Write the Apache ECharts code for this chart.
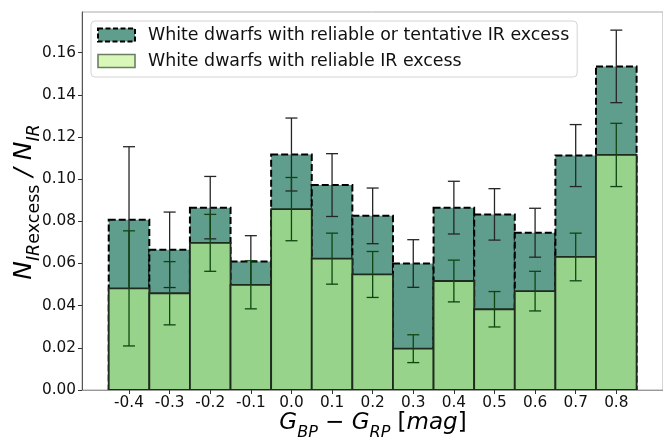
<!DOCTYPE html>
<html>
<head>
<meta charset="utf-8">
<script src="https://cdn.jsdelivr.net/npm/echarts@6/dist/echarts.min.js"></script>
<style>
html,body{margin:0;padding:0;background:#fff;}
#chart{width:663px;height:439px;}
</style>
</head>
<body>
<div id="chart"></div>
<script>
// ---- data ----
const binCenters = [-0.4, -0.3, -0.2, -0.1, 0.0, 0.1, 0.2, 0.3, 0.4, 0.5, 0.6, 0.7, 0.8];
const xTickLabels = ['-0.4', '-0.3', '-0.2', '-0.1', '0.0', '0.1', '0.2', '0.3', '0.4', '0.5', '0.6', '0.7', '0.8'];
const yTickValues = [0, 0.02, 0.04, 0.06, 0.08, 0.10, 0.12, 0.14, 0.16];
// reliable or tentative IR excess
const allValues = [0.0808, 0.0665, 0.0865, 0.0610, 0.1117, 0.0972, 0.0826, 0.0600, 0.0865, 0.0833, 0.0746, 0.1112, 0.1535];
const allErrors = [0.0346, 0.0179, 0.0148, 0.0122, 0.0173, 0.0149, 0.0132, 0.0113, 0.0125, 0.0122, 0.0116, 0.0147, 0.0172];
// reliable IR excess
const reliableValues = [0.0482, 0.0459, 0.0698, 0.0499, 0.0858, 0.0623, 0.0548, 0.0196, 0.0517, 0.0383, 0.0469, 0.0631, 0.1115];
const reliableErrors = [0.0273, 0.0150, 0.0135, 0.0114, 0.0150, 0.0121, 0.0109, 0.0066, 0.0099, 0.0084, 0.0094, 0.0113, 0.0150];
const seriesNames = ['White dwarfs with reliable or tentative IR excess', 'White dwarfs with reliable IR excess'];
const binWidth = 0.1;

const FONT = 'DejaVu Sans';
const chart = echarts.init(document.getElementById('chart'), null, {renderer: 'canvas'});

function makeBarRenderer(style) {
  return function (params, api) {
    const x = api.value(0), y = api.value(1);
    const p0 = api.coord([x - binWidth / 2, y]);
    const p1 = api.coord([x + binWidth / 2, 0]);
    return {
      type: 'rect',
      shape: {x: p0[0], y: p0[1], width: p1[0] - p0[0], height: p1[1] - p0[1]},
      style: Object.assign({}, style)
    };
  };
}
function makeErrRenderer(color, lw, cap) {
  return function (params, api) {
    const x = api.value(0), y = api.value(1), e = api.value(2);
    const t = api.coord([x, y + e]);
    const b = api.coord([x, y - e]);
    const st = {stroke: color, lineWidth: lw};
    return {
      type: 'group',
      children: [
        {type: 'line', shape: {x1: t[0], y1: t[1], x2: b[0], y2: b[1]}, style: st},
        {type: 'line', shape: {x1: t[0] - cap, y1: t[1], x2: t[0] + cap, y2: t[1]}, style: st},
        {type: 'line', shape: {x1: b[0] - cap, y1: b[1], x2: b[0] + cap, y2: b[1]}, style: st}
      ]
    };
  };
}

const allData = binCenters.map((c, i) => [c, allValues[i], allErrors[i]]);
const relData = binCenters.map((c, i) => [c, reliableValues[i], reliableErrors[i]]);

const option = {
  animation: false,
  backgroundColor: '#fff',
  grid: {left: 82, top: 12, width: 584, height: 378, show: true, borderColor: '#aaaaaa', borderWidth: 1, backgroundColor: 'transparent'},
  xAxis: {
    type: 'value', min: -0.5158, max: 0.915,
    axisLine: {show: true, onZero: false, lineStyle: {color: '#999999', width: 1}},
    axisTick: {show: true, length: 4, lineStyle: {color: '#333'}, customValues: binCenters},
    axisLabel: {color: '#111', fontSize: 15.3, fontFamily: FONT, margin: 6, customValues: binCenters,
      formatter: v => { const i = binCenters.findIndex(c => Math.abs(c - v) < 1e-6); return i >= 0 ? xTickLabels[i] : ''; }},
    splitLine: {show: false}
  },
  yAxis: {
    type: 'value', min: 0, max: 0.1793,
    axisLine: {show: true, onZero: false, lineStyle: {color: '#555555', width: 1}},
    axisTick: {show: true, length: 4, lineStyle: {color: '#333'}, customValues: yTickValues},
    axisLabel: {color: '#111', fontSize: 15.3, fontFamily: FONT, margin: 6, customValues: yTickValues,
      formatter: v => v.toFixed(2)},
    splitLine: {show: false}
  },
  legend: {
    orient: 'vertical', left: 91, top: 21,
    padding: [4, 8, 6, 6],
    itemWidth: 37, itemHeight: 13, itemGap: 6,
    backgroundColor: '#ffffff', borderColor: '#d4d4d4', borderWidth: 1, borderRadius: 4,
    selectedMode: false,
    textStyle: {fontSize: 17.4, fontFamily: FONT, color: '#111', lineHeight: 20, padding: [0, 0, 0, 8]},
    data: [
      {name: seriesNames[0], icon: 'rect', itemStyle: {color: '#5f9e8c', borderColor: '#000', borderWidth: 2, borderType: [5, 2.5]}},
      {name: seriesNames[1], icon: 'rect', itemStyle: {color: '#d8f7b8', borderColor: '#6b7f60', borderWidth: 1.6, borderType: 'solid'}}
    ]
  },
  series: [
    {
      name: seriesNames[0], type: 'custom', z: 1, clip: true,
      itemStyle: {color: '#5f9e8c'},
      encode: {x: 0, y: 1},
      renderItem: makeBarRenderer({fill: '#5f9e8c', stroke: '#000', lineWidth: 2, lineDash: [7, 3]}),
      data: allData
    },
    {
      name: seriesNames[0] + ' err', type: 'custom', z: 2, clip: true,
      encode: {x: 0, y: 1},
      renderItem: makeErrRenderer('#262626', 1.3, 6),
      data: allData
    },
    {
      name: seriesNames[1], type: 'custom', z: 3, clip: true,
      itemStyle: {color: '#d8f7b8'},
      encode: {x: 0, y: 1},
      renderItem: makeBarRenderer({fill: '#97d38a', stroke: '#1e2a1e', lineWidth: 1.8}),
      data: relData
    },
    {
      name: seriesNames[1] + ' err', type: 'custom', z: 4, clip: true,
      encode: {x: 0, y: 1},
      renderItem: makeErrRenderer('#0f4610', 1.3, 6),
      data: relData
    }
  ],
  graphic: [
    {
      type: 'text', x: 373, y: 425, z: 10,
      style: {
        text: '{g|G}{s|BP}{o| − }{g|G}{s|RP}{u| [}{g|mag}{u|]}',
        align: 'center', verticalAlign: 'middle',
        rich: {
          g: {fontSize: 23, fontStyle: 'italic', fontFamily: FONT, color: '#111', lineHeight: 27, verticalAlign: 'top'},
          s: {fontSize: 16, fontStyle: 'italic', fontFamily: FONT, color: '#111', lineHeight: 18, padding: [13, 0, 0, 0], verticalAlign: 'top'},
          o: {fontSize: 23, fontFamily: FONT, color: '#111', lineHeight: 27, verticalAlign: 'top'},
          u: {fontSize: 23, fontFamily: FONT, color: '#111', lineHeight: 27, verticalAlign: 'top'}
        }
      }
    },
    {
      type: 'text', x: 26, y: 202, rotation: Math.PI / 2, z: 10,
      style: {
        text: '{g|N}{s|IR}{r|excess}{o| / }{g|N}{s|IR}',
        align: 'center', verticalAlign: 'middle',
        rich: {
          g: {fontSize: 25, fontStyle: 'italic', fontFamily: FONT, color: '#111', lineHeight: 29, verticalAlign: 'top'},
          s: {fontSize: 17.5, fontStyle: 'italic', fontFamily: FONT, color: '#111', lineHeight: 20, padding: [14, 0, 0, 0], verticalAlign: 'top'},
          r: {fontSize: 17.5, fontFamily: FONT, color: '#111', lineHeight: 20, padding: [14, 0, 0, 0], verticalAlign: 'top'},
          o: {fontSize: 25, fontStyle: 'italic', fontFamily: FONT, color: '#111', lineHeight: 29, verticalAlign: 'top'}
        }
      }
    }
  ]
};
chart.setOption(option);
</script>
</body>
</html>
